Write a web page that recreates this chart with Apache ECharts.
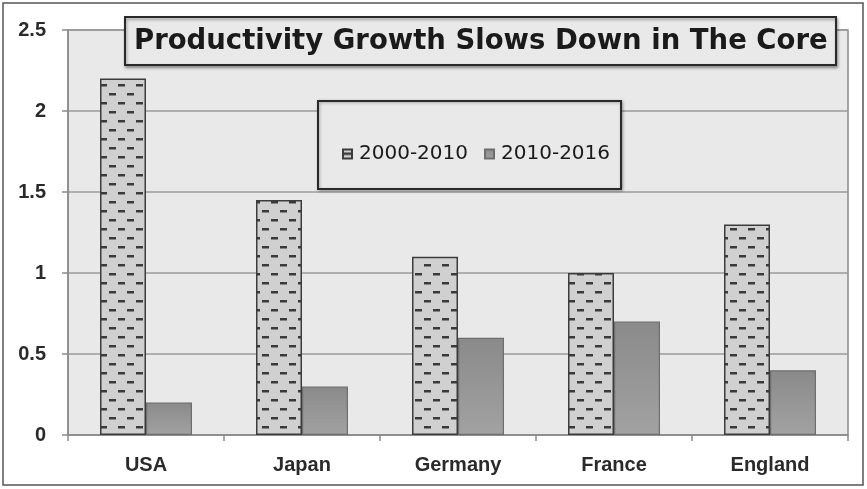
<!DOCTYPE html>
<html>
<head>
<meta charset="utf-8">
<script src="https://cdn.jsdelivr.net/npm/echarts@6/dist/echarts.min.js"></script>
<style>
html,body{margin:0;padding:0;background:#fff;}
#c{width:867px;height:489px;}
</style>
</head>
<body>
<div id="c"></div>
<script>
const categories = ['USA', 'Japan', 'Germany', 'France', 'England'];
const series2000 = [2.2, 1.45, 1.1, 1.0, 1.3];
const series2010 = [0.2, 0.3, 0.6, 0.7, 0.4];
const seriesNames = ['2000-2010', '2010-2016'];
const yTicks = { min: 0, max: 2.5, interval: 0.5 };
const titleText = 'Productivity Growth Slows Down in The Core';

// dashed pattern tile
const tile = document.createElement('canvas');
tile.width = 18; tile.height = 18;
const g = tile.getContext('2d');
g.fillStyle = '#d0d0d0';
g.fillRect(0, 0, 18, 18);
g.fillStyle = '#3a3a3a';
g.fillRect(1, 3, 7, 2.5);
g.fillRect(10, 12, 7, 2.5);

const chart = echarts.init(document.getElementById('c'), null, { renderer: 'canvas' });
const FONT = 'Liberation Sans, Arial, sans-serif';
const WIDE = 'DejaVu Sans, Verdana, sans-serif';
chart.setOption({
  animation: false,
  backgroundColor: '#ffffff',
  grid: {
    left: 68, top: 30, right: 19, bottom: 54,
    show: true, backgroundColor: '#e9e9e9', borderColor: '#8a8a8a', borderWidth: 1.5
  },
  title: {
    text: titleText,
    left: 125, top: 17,
    padding: [10, 9, 8, 9],
    backgroundColor: '#e9e9e9',
    borderColor: '#2a2a2a', borderWidth: 2,
    shadowColor: 'rgba(0,0,0,0.35)', shadowBlur: 3, shadowOffsetX: 1, shadowOffsetY: 2,
    textStyle: { fontFamily: WIDE, fontWeight: 'bold', fontSize: 27.5, color: '#1a1a1a', lineHeight: 30 }
  },
  legend: {
    data: seriesNames,
    left: 337, top: 139,
    itemWidth: 9, itemHeight: 9, itemGap: 16,
    z: 10,
    textStyle: { fontFamily: WIDE, fontSize: 20, color: '#1a1a1a', padding: [0, 0, 0, 2] },
    icon: 'rect'
  },
  graphic: [
    { type: 'rect', z: 5, shape: { x: 318, y: 101, width: 303, height: 88 },
      style: { fill: '#e9e9e9', stroke: '#2a2a2a', lineWidth: 2,
               shadowColor: 'rgba(0,0,0,0.3)', shadowBlur: 3, shadowOffsetX: 1, shadowOffsetY: 1 } },
    { type: 'rect', z: 0, shape: { x: 3, y: 3, width: 860, height: 482 },
      style: { fill: 'none', stroke: '#555', lineWidth: 1.5 } }
  ],
  xAxis: {
    type: 'category',
    data: categories,
    axisLine: { lineStyle: { color: '#8a8a8a', width: 1.5 } },
    axisTick: { show: true, length: 6, lineStyle: { color: '#8a8a8a', width: 1.5 } },
    axisLabel: { fontFamily: FONT, fontWeight: 'bold', fontSize: 20, color: '#2a2a2a', margin: 20 }
  },
  yAxis: {
    type: 'value',
    min: yTicks.min, max: yTicks.max, interval: yTicks.interval,
    axisLine: { show: true, lineStyle: { color: '#8a8a8a', width: 1.5 } },
    axisTick: { show: true, length: 6, lineStyle: { color: '#8a8a8a', width: 1.5 } },
    splitLine: { lineStyle: { color: '#9a9a9a', width: 1.5 } },
    axisLabel: { fontFamily: FONT, fontWeight: 'bold', fontSize: 20, color: '#2a2a2a', margin: 22 }
  },
  series: [
    {
      name: seriesNames[0], type: 'bar', data: series2000,
      barWidth: 46, barGap: '0%',
      itemStyle: { color: { image: tile, repeat: 'repeat' }, borderColor: '#3c3c3c', borderWidth: 1.5 }
    },
    {
      name: seriesNames[1], type: 'bar', data: series2010,
      barWidth: 46, barGap: '0%',
      itemStyle: {
        color: { type: 'linear', x: 0, y: 0, x2: 0, y2: 1,
          colorStops: [{ offset: 0, color: '#8a8a8a' }, { offset: 1, color: '#a2a2a2' }] },
        borderColor: '#6e6e6e', borderWidth: 1.2
      }
    }
  ]
});
</script>
</body>
</html>
